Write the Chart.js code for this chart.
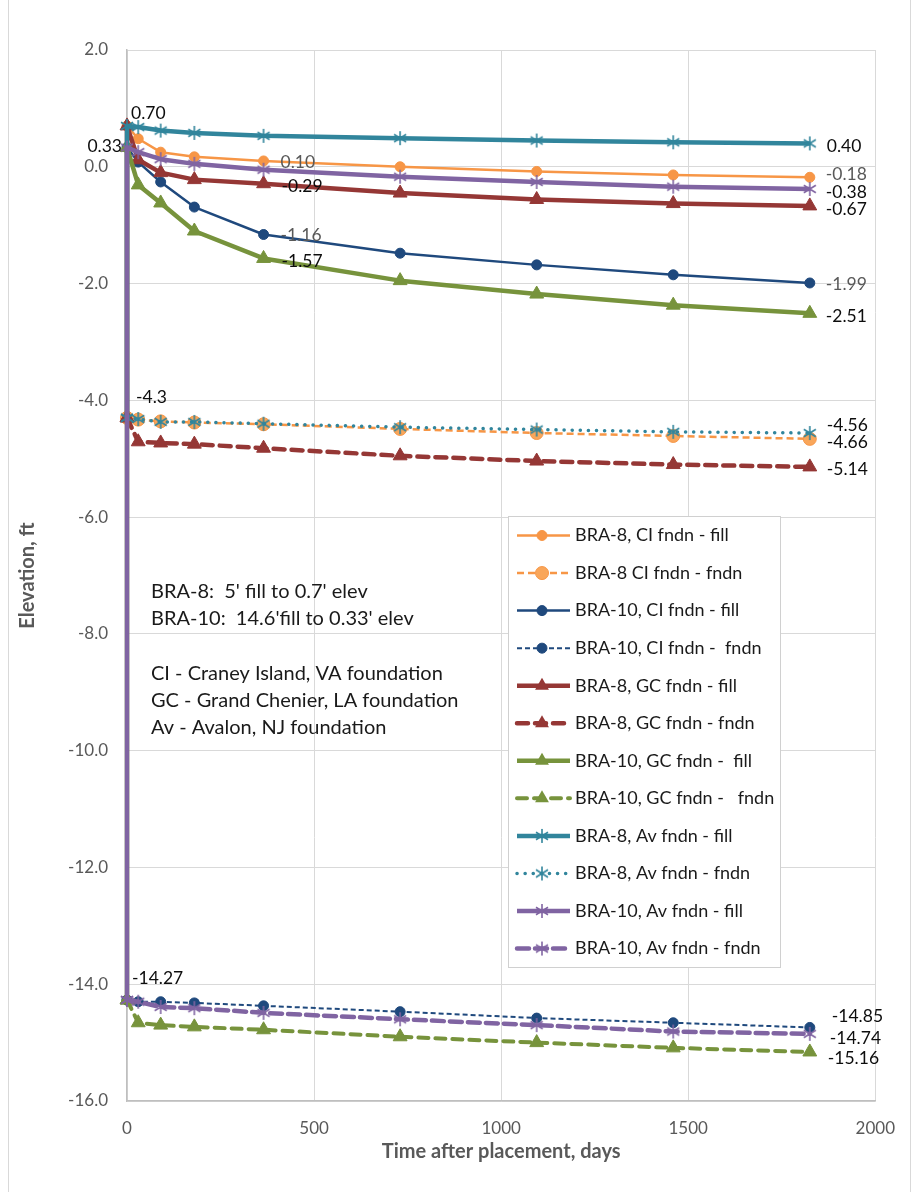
<!DOCTYPE html>
<html>
<head>
<meta charset="utf-8">
<script src="https://cdn.jsdelivr.net/npm/chart.js@4/dist/chart.umd.min.js"></script>
<style>
  html, body { margin: 0; padding: 0; background: #ffffff; }
  #wrap { width: 912px; height: 1192px; }
</style>
</head>
<body>
<div id="wrap"><canvas id="c" width="912" height="1192"></canvas></div>
<script>
// Days after placement at which elevations were computed
const days = [0, 30, 90, 180, 365, 730, 1095, 1460, 1825];

// Original ground (pre-fill) elevations, ft
const bra8Base = -4.3;
const bra10Base = -14.27;

// Elevations, ft (fill surface and foundation surface)
const ci8Fill   = [0.70, 0.48, 0.25, 0.17, 0.10, 0.00, -0.08, -0.14, -0.18];
const ci8Fndn   = [-4.30, -4.33, -4.36, -4.38, -4.41, -4.49, -4.56, -4.61, -4.66];
const ci10Fill  = [0.33, 0.08, -0.26, -0.69, -1.16, -1.48, -1.68, -1.85, -1.99];
const ci10Fndn  = [-14.27, -14.30, -14.30, -14.32, -14.37, -14.47, -14.58, -14.66, -14.74];
const gc8Fill   = [0.70, 0.12, -0.10, -0.22, -0.29, -0.45, -0.56, -0.63, -0.67];
const gc8Fndn   = [-4.30, -4.71, -4.73, -4.75, -4.82, -4.95, -5.04, -5.10, -5.14];
const gc10Fill  = [0.33, -0.31, -0.62, -1.10, -1.57, -1.95, -2.18, -2.37, -2.51];
const gc10Fndn  = [-14.27, -14.66, -14.70, -14.73, -14.78, -14.90, -15.00, -15.09, -15.16];
const av8Fill   = [0.70, 0.68, 0.62, 0.58, 0.53, 0.49, 0.45, 0.42, 0.40];
const av8Fndn   = [-4.30, -4.32, -4.37, -4.37, -4.40, -4.46, -4.50, -4.54, -4.56];
const av10Fill  = [0.33, 0.25, 0.13, 0.05, -0.05, -0.17, -0.26, -0.34, -0.38];
const av10Fndn  = [-14.27, -14.30, -14.39, -14.41, -14.49, -14.60, -14.70, -14.81, -14.85];

const seriesNames = [
  'BRA-8, CI fndn - fill', 'BRA-8 CI fndn - fndn',
  'BRA-10, CI fndn - fill', 'BRA-10, CI fndn -  fndn',
  'BRA-8, GC fndn - fill', 'BRA-8, GC fndn - fndn',
  'BRA-10, GC fndn -  fill', 'BRA-10, GC fndn -   fndn',
  'BRA-8, Av fndn - fill', 'BRA-8, Av fndn - fndn',
  'BRA-10, Av fndn - fill', 'BRA-10, Av fndn - fndn'
];

const xTicks = [0, 500, 1000, 1500, 2000];
const yTicks = [-16, -14, -12, -10, -8, -6, -4, -2, 0, 2];

const noteLines = [
  "BRA-8:  5' fill to 0.7' elev",
  "BRA-10:  14.6'fill to 0.33' elev",
  "",
  "CI - Craney Island, VA foundation",
  "GC - Grand Chenier, LA foundation",
  "Av - Avalon, NJ foundation"
];

const FONT = 'Lato, "Open Sans", sans-serif';
const ORANGE = '#F79646', ORANGE_L = '#F9A65A', NAVY = '#1F497D', RED = '#953735',
      GREEN = '#77933C', TEAL = '#31859C', PURPLE = '#8064A2';

// asterisk marker: vertical stroke plus an X
function starMarker(color, r, lw) {
  const s = Math.ceil(r * 2 + lw + 2);
  const cv = document.createElement('canvas');
  cv.width = s; cv.height = s;
  const g = cv.getContext('2d');
  const c = s / 2;
  g.strokeStyle = color; g.lineWidth = lw; g.lineCap = 'butt';
  g.beginPath();
  g.moveTo(c, c - r); g.lineTo(c, c + r);
  const d = r * 0.86;
  g.moveTo(c - d, c - d * 0.62); g.lineTo(c + d, c + d * 0.62);
  g.moveTo(c - d, c + d * 0.62); g.lineTo(c + d, c - d * 0.62);
  g.stroke();
  return cv;
}

const fillPts = (base, vals) => [{x: 0, y: base}].concat(days.map((d, i) => ({x: d, y: vals[i]})));
const fndnPts = (vals) => days.map((d, i) => ({x: d, y: vals[i]}));

const styles = [
  {c: ORANGE, w: 2.5, dash: [], pt: 'circle', r: 5},
  {c: ORANGE, w: 2.5, dash: [7, 4], pt: 'circle', r: 6.5, fillC: ORANGE_L},
  {c: NAVY, w: 2.5, dash: [], pt: 'circle', r: 5},
  {c: NAVY, w: 2, dash: [5, 3], pt: 'circle', r: 5},
  {c: RED, w: 4.5, dash: [], pt: 'triangle', r: 8},
  {c: RED, w: 4.5, dash: [11, 7], pt: 'triangle', r: 8, cap: 'round'},
  {c: GREEN, w: 4.5, dash: [], pt: 'triangle', r: 8},
  {c: GREEN, w: 4, dash: [10, 7], pt: 'triangle', r: 8, cap: 'round'},
  {c: TEAL, w: 4.5, dash: [], pt: 'star', r: 7},
  {c: TEAL, w: 3.5, dash: [0.1, 8], pt: 'star', r: 7, cap: 'round'},
  {c: PURPLE, w: 4.5, dash: [], pt: 'star', r: 7},
  {c: PURPLE, w: 4.5, dash: [12, 6], pt: 'star', r: 7, cap: 'round'}
];

const seriesData = [
  fillPts(bra8Base, ci8Fill), fndnPts(ci8Fndn),
  fillPts(bra10Base, ci10Fill), fndnPts(ci10Fndn),
  fillPts(bra8Base, gc8Fill), fndnPts(gc8Fndn),
  fillPts(bra10Base, gc10Fill), fndnPts(gc10Fndn),
  fillPts(bra8Base, av8Fill), fndnPts(av8Fndn),
  fillPts(bra10Base, av10Fill), fndnPts(av10Fndn)
];

const datasets = seriesData.map((data, i) => {
  const s = styles[i];
  const ps = s.pt === 'star' ? starMarker(s.c, s.r, 1.6) : s.pt;
  return {
    label: seriesNames[i],
    data: data,
    borderColor: s.c,
    backgroundColor: s.fillC || s.c,
    borderWidth: s.w,
    borderDash: s.dash,
    borderCapStyle: s.cap || 'butt',
    borderJoinStyle: 'round',
    pointStyle: ps,
    pointRadius: s.r,
    pointBackgroundColor: s.fillC || s.c,
    pointBorderColor: s.c,
    pointBorderWidth: 1,
    tension: 0,
    clip: false,
    order: -i,
    _marker: ps
  };
});

// value labels: dataset, point index, text, offsets from the point, colour
const valueLabels = [
  {ds: 0, i: 1, t: '0.70', dx: 4, dy: -13, c: '#0d0d0d'},
  {ds: 10, i: 1, t: '0.33', dx: -5, dy: -1, c: '#0d0d0d', align: 'right'},
  {ds: 0, i: 5, t: '0.10', dx: 17, dy: 1, c: '#595959'},
  {ds: 4, i: 5, t: '-0.29', dx: 18, dy: 3, c: '#0d0d0d'},
  {ds: 2, i: 5, t: '-1.16', dx: 17, dy: 1, c: '#595959'},
  {ds: 6, i: 5, t: '-1.57', dx: 18, dy: 3, c: '#0d0d0d'},
  {ds: 8, i: 9, t: '0.40', dx: 17, dy: 3, c: '#0d0d0d'},
  {ds: 0, i: 9, t: '-0.18', dx: 16, dy: -3, c: '#595959'},
  {ds: 10, i: 9, t: '-0.38', dx: 16, dy: 3, c: '#0d0d0d'},
  {ds: 4, i: 9, t: '-0.67', dx: 16, dy: 3, c: '#0d0d0d'},
  {ds: 2, i: 9, t: '-1.99', dx: 16, dy: 1, c: '#595959'},
  {ds: 6, i: 9, t: '-2.51', dx: 16, dy: 3, c: '#0d0d0d'},
  {ds: 9, i: 0, t: '-4.3', dx: 9, dy: -20, c: '#0d0d0d'},
  {ds: 9, i: 8, t: '-4.56', dx: 17, dy: -8, c: '#0d0d0d'},
  {ds: 1, i: 8, t: '-4.66', dx: 17, dy: 3, c: '#0d0d0d'},
  {ds: 5, i: 8, t: '-5.14', dx: 17, dy: 2, c: '#0d0d0d'},
  {ds: 3, i: 0, t: '-14.27', dx: 5, dy: -22, c: '#0d0d0d'},
  {ds: 11, i: 8, t: '-14.85', dx: 22, dy: -17, c: '#0d0d0d'},
  {ds: 3, i: 8, t: '-14.74', dx: 20, dy: 11, c: '#0d0d0d'},
  {ds: 7, i: 8, t: '-15.16', dx: 18, dy: 6, c: '#0d0d0d'}
];

function drawMarker(ctx, s, marker, x, y) {
  ctx.save();
  if (marker instanceof HTMLCanvasElement) {
    ctx.drawImage(marker, x - marker.width / 2, y - marker.height / 2);
  } else if (marker === 'circle') {
    ctx.beginPath(); ctx.arc(x, y, s.r, 0, Math.PI * 2);
    ctx.fillStyle = s.fillC || s.c; ctx.fill();
    ctx.lineWidth = 1; ctx.strokeStyle = s.c; ctx.stroke();
  } else {
    const r = s.r;
    ctx.beginPath();
    for (let k = 0; k < 3; k++) {
      const a = -Math.PI / 2 + k * 2 * Math.PI / 3;
      const px = x + r * Math.cos(a), py = y + r * Math.sin(a);
      if (k === 0) ctx.moveTo(px, py); else ctx.lineTo(px, py);
    }
    ctx.closePath();
    ctx.fillStyle = s.c; ctx.fill();
  }
  ctx.restore();
}

const extras = {
  id: 'extras',
  beforeDraw(chart) {
    const ctx = chart.ctx;
    ctx.save();
    ctx.fillStyle = '#ffffff';
    ctx.fillRect(0, 0, chart.width, chart.height);
    ctx.strokeStyle = '#d9d9d9'; ctx.lineWidth = 1;
    ctx.strokeRect(8.5, -2, 902, chart.height + 4);
    ctx.restore();
  },
  afterDatasetsDraw(chart) {
    const ctx = chart.ctx;
    ctx.save();
    ctx.font = '17.5px ' + FONT;
    ctx.textBaseline = 'middle';
    valueLabels.forEach(l => {
      const p = chart.getDatasetMeta(l.ds).data[l.i];
      ctx.fillStyle = l.c;
      ctx.textAlign = l.align || 'left';
      ctx.fillText(l.t, p.x + l.dx, p.y + l.dy);
    });

    // explanatory notes
    ctx.fillStyle = '#1a1a1a';
    ctx.textAlign = 'left';
    ctx.font = '20px ' + FONT;
    const noteY = [592, 619, 0, 674, 701, 728];
    noteLines.forEach((t, k) => { if (t) ctx.fillText(t, 151, noteY[k]); });

    // legend box
    const L = 508, T = 516, R = 780, B = 967;
    ctx.fillStyle = '#ffffff';
    ctx.fillRect(L, T, R - L, B - T);
    ctx.strokeStyle = '#d0d0d0'; ctx.lineWidth = 1;
    ctx.strokeRect(L + 0.5, T + 0.5, R - L, B - T);
    const step = 37.55;
    chart.data.datasets.forEach((ds, k) => {
      const y = 535.5 + k * step;
      const s = styles[k];
      ctx.save();
      ctx.strokeStyle = s.c; ctx.lineWidth = s.w;
      ctx.setLineDash(s.dash); ctx.lineCap = s.cap || 'butt';
      ctx.beginPath(); ctx.moveTo(517, y); ctx.lineTo(570, y); ctx.stroke();
      ctx.restore();
      drawMarker(ctx, s, ds._marker, 542, y);
      ctx.fillStyle = '#1a1a1a';
      ctx.font = '18px ' + FONT;
      ctx.textAlign = 'left';
      ctx.fillText(ds.label, 575, y);
    });
    ctx.restore();
  }
};

new Chart(document.getElementById('c'), {
  type: 'line',
  data: { datasets: datasets },
  plugins: [extras],
  options: {
    responsive: false,
    animation: false,
    devicePixelRatio: 1,
    layout: { padding: { left: 10, right: 30, top: 50, bottom: 25 } },
    plugins: { legend: { display: false }, tooltip: { enabled: false } },
    scales: {
      x: {
        type: 'linear', min: 0, max: 2000,
        afterBuildTicks(scale) { scale.ticks = xTicks.map(v => ({value: v})); },
        afterFit(scale) { scale.height = 66; },
        grid: { color: '#d9d9d9', lineWidth: 1, drawTicks: false },
        border: { color: '#bfbfbf', width: 1.5 },
        ticks: { color: '#595959', font: { family: FONT, size: 17 }, padding: 17, maxRotation: 0,
                 callback: v => String(v) },
        title: { display: true, text: 'Time after placement, days', color: '#595959',
                 font: { family: FONT, size: 20, weight: 'bold' }, padding: { top: 0, bottom: 3 } }
      },
      y: {
        type: 'linear', min: -16, max: 2,
        afterBuildTicks(scale) { scale.ticks = yTicks.map(v => ({value: v})); },
        afterFit(scale) { scale.width = 117; },
        grid: { color: '#d9d9d9', lineWidth: 1, drawTicks: false },
        border: { color: '#bfbfbf', width: 1.5 },
        ticks: { color: '#595959', font: { family: FONT, size: 17 }, padding: 19,
                 callback: v => Number(v).toFixed(1) },
        title: { display: true, text: 'Elevation, ft', color: '#595959',
                 font: { family: FONT, size: 20, weight: 'bold' }, padding: { top: 6, bottom: 0 } }
      }
    }
  }
});
</script>
</body>
</html>
